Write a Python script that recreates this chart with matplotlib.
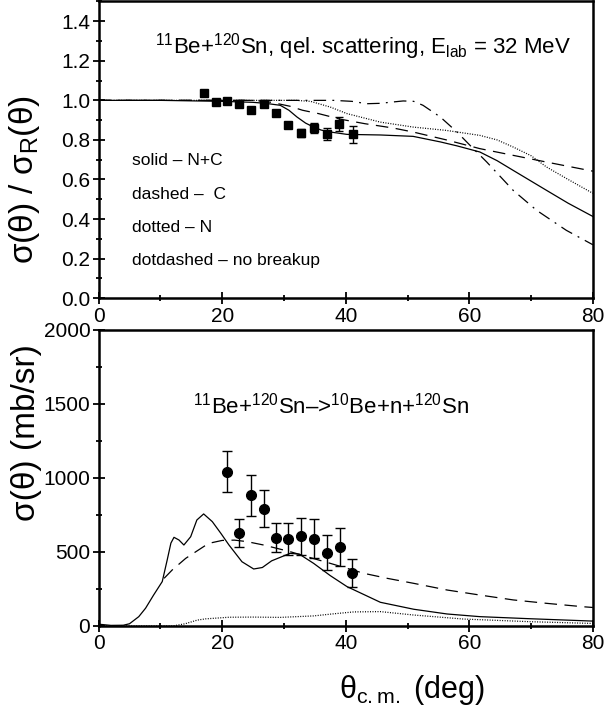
"""
11Be + 120Sn at 32 MeV: quasi-elastic ratio to Rutherford (top) and
breakup cross section 11Be+120Sn -> 10Be+n+120Sn (bottom).
"""
import numpy as np
import matplotlib.pyplot as plt
from matplotlib.ticker import MultipleLocator

plt.rcParams["font.family"] = ["Liberation Sans", "DejaVu Sans"]
plt.rcParams["mathtext.fontset"] = "custom"
plt.rcParams["mathtext.rm"] = "Liberation Sans"
plt.rcParams["mathtext.it"] = "Liberation Sans:italic"

# ── top panel: sigma / sigma_Rutherford ───────────────────────────────────────
th_qel = [17.0, 19.0, 20.8, 22.7, 24.6, 26.7, 28.7, 30.6, 32.8, 34.9, 36.9, 38.9, 41.1]
r_qel = [1.039, 0.993, 0.998, 0.983, 0.949, 0.980, 0.936, 0.877, 0.835, 0.860, 0.832, 0.882, 0.828]
r_err = [0.010, 0.008, 0.008, 0.008, 0.010, 0.012, 0.016, 0.016, 0.020, 0.027, 0.030, 0.035, 0.042]

th_sol_r = [0, 10, 20, 25, 27, 29.4, 30.8, 32.1, 33.5, 34.8, 36, 37.5, 40.2, 45.6, 50.9,
            55.3, 58, 61.7, 64.5, 67.1, 72.5, 76, 80]
sol_r = [1.0, 1.0, 0.995, 0.99, 0.985, 0.975, 0.95, 0.916, 0.885, 0.865, 0.85, 0.84, 0.828,
         0.825, 0.818, 0.79, 0.77, 0.739, 0.695, 0.646, 0.545, 0.48, 0.413]

th_dash_r = [0, 25, 28, 31, 33, 35.6, 39.1, 43.1, 47.7, 50.9, 56.3, 61.7, 67.1, 72.5, 80]
dash_r = [1.0, 1.0, 0.99, 0.97, 0.95, 0.933, 0.905, 0.882, 0.86, 0.84, 0.8, 0.756, 0.722,
          0.688, 0.642]

th_dot_r = [0, 30, 32, 34.3, 37.5, 40.2, 45.6, 50.9, 56.3, 61.7, 64.5, 67.1, 70, 72.5, 76, 80]
dot_r = [1.0, 1.0, 1.0, 0.995, 0.966, 0.933, 0.89, 0.865, 0.848, 0.823, 0.8, 0.764, 0.72,
         0.663, 0.6, 0.53]

th_dd_r = [0, 38, 41, 43.4, 45.6, 47.7, 49.3, 51, 52.5, 55.3, 58, 60.1, 62.8, 67.1, 70.9,
           75.7, 80]
dd_r = [1.0, 1.0, 0.995, 0.983, 0.985, 0.992, 0.997, 0.995, 0.975, 0.916, 0.84, 0.773,
        0.689, 0.545, 0.444, 0.343, 0.27]

# ── bottom panel: breakup cross section (mb/sr) ──────────────────────────────
th_bu = [20.85, 22.7, 24.7, 26.7, 28.7, 30.7, 32.8, 34.9, 36.9, 39.0, 41.05]
xs_bu = [1043, 630, 883, 791, 597, 588, 606, 590, 495, 534, 358]
xs_err = [140, 95, 140, 125, 100, 110, 125, 130, 118, 130, 93]

th_sol_x = [0, 2, 4, 5, 6.5, 7.6, 8.9, 10.3, 11.1, 11.7, 12.2, 13.0, 13.8, 14.9, 15.9, 17.0,
            18.4, 19.8, 21.1, 23.2, 25.1, 26.5, 28, 31.0, 32.5, 34.8, 37.5, 40.2, 45.6, 51,
            56.4, 61.7, 69.8, 80]
sol_x = [12, 4, 5, 15, 63, 120, 209, 300, 446, 560, 599, 581, 547, 603, 716, 757, 705, 625,
         547, 434, 385, 395, 440, 491, 485, 423, 340, 266, 160, 113, 81, 63, 49, 33]

th_dash_x = [10.6, 11.9, 14.1, 17.8, 20, 22, 24, 26.7, 31, 34, 37.5, 42.9, 46.7, 51, 56.4,
             61.7, 67.1, 72.5, 78.4, 80]
dash_x = [322, 378, 457, 558, 578, 580, 570, 547, 502, 465, 423, 356, 322, 288, 243, 209,
          176, 153, 130, 125]

th_dot_x = [0, 12, 14, 16, 17.3, 21.1, 25, 29.4, 34.8, 38, 41.3, 45.6, 51, 59, 69.8, 80]
dot_x = [0, 0, 15, 40, 48, 59, 60, 58, 68, 82, 95, 97, 74, 47, 29, 17]

DASH = (0, (10, 6))
DOT = (0, (0.8, 1.2))
DOTDASH = (0, (10, 5, 1.5, 5))

fig = plt.figure(figsize=(6.05, 7.22), dpi=100)
ax1 = fig.add_axes([0.163, 0.587, 0.817, 0.411])
ax2 = fig.add_axes([0.163, 0.133, 0.817, 0.410])


def style(ax):
    for s in ax.spines.values():
        s.set_linewidth(1.8)
    ax.tick_params(which="both", direction="inout", top=False, right=False,
                   labelsize=15, width=1.3, pad=2)
    ax.tick_params(which="major", length=8)
    ax.tick_params(which="minor", length=5)
    ax.set_xlim(0, 80)
    ax.xaxis.set_major_locator(MultipleLocator(20))
    ax.xaxis.set_minor_locator(MultipleLocator(10))


# top
ax1.plot(th_sol_r, sol_r, color="black", lw=0.9)
ax1.plot(th_dash_r, dash_r, color="black", lw=0.9, ls=DASH)
ax1.plot(th_dot_r, dot_r, color="black", lw=0.9, ls=DOT)
ax1.plot(th_dd_r, dd_r, color="black", lw=0.9, ls=DOTDASH)
ax1.errorbar(th_qel, r_qel, yerr=r_err, fmt="s", color="black", ms=6, capsize=3,
             elinewidth=1.0, capthick=1.0)
style(ax1)
ax1.set_ylim(0, 1.5)
ax1.yaxis.set_major_locator(MultipleLocator(0.2))
ax1.yaxis.set_minor_locator(MultipleLocator(0.1))
ax1.set_yticks(np.arange(0, 1.41, 0.2))
ax1.set_ylabel(r"σ(θ) / σ$_{\rm R}$(θ)", fontsize=24)
ax1.yaxis.set_label_coords(-0.115, 0.40)
ax1.text(0.535, 0.848, r"$^{11}$Be+$^{120}$Sn, qel. scattering, E$_{\rm lab}$ = 32 MeV",
         transform=ax1.transAxes, ha="center", va="center", fontsize=16)
for i, s in enumerate(["solid – N+C", "dashed –  C", "dotted – N", "dotdashed – no breakup"]):
    ax1.text(0.068, 0.463 - i * 0.1125, s, transform=ax1.transAxes, ha="left", va="center",
             fontsize=12.5)

# bottom
ax2.plot(th_sol_x, sol_x, color="black", lw=0.9)
ax2.plot(th_dash_x, dash_x, color="black", lw=0.9, ls=DASH)
ax2.plot(th_dot_x, dot_x, color="black", lw=0.9, ls=DOT)
ax2.errorbar(th_bu, xs_bu, yerr=xs_err, fmt="o", color="black", ms=7, capsize=3.5,
             elinewidth=1.0, capthick=1.0)
style(ax2)
ax2.set_ylim(0, 2000)
ax2.yaxis.set_major_locator(MultipleLocator(500))
ax2.yaxis.set_minor_locator(MultipleLocator(250))
ax2.set_ylabel("σ(θ) (mb/sr)", fontsize=24)
ax2.yaxis.set_label_coords(-0.115, 0.652)
ax2.text(0.47, 0.745, r"$^{11}$Be+$^{120}$Sn–>$^{10}$Be+n+$^{120}$Sn",
         transform=ax2.transAxes, ha="center", va="center", fontsize=16)

fig.text(0.68, 0.044, r"θ$_{\rm c.m.}$ (deg)", ha="center", va="center", fontsize=22)

fig.savefig("out.png", dpi=100)
